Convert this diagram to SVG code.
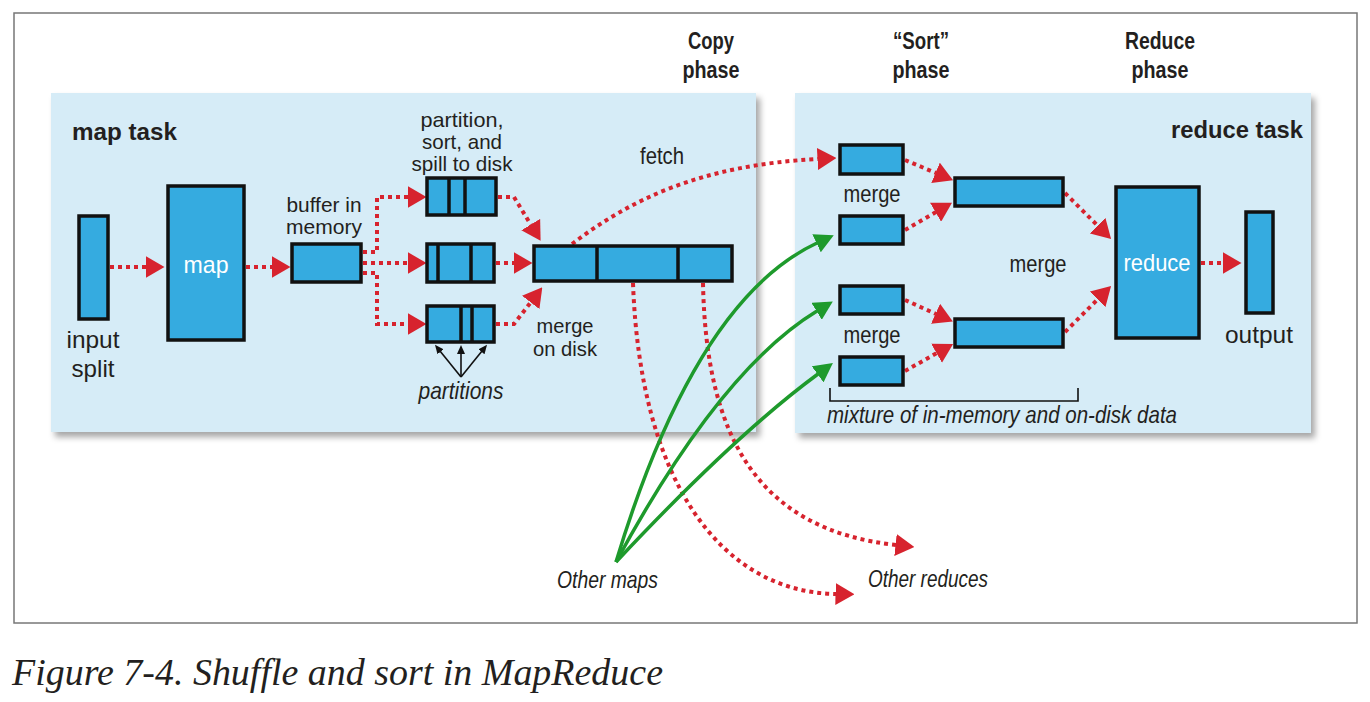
<svg xmlns="http://www.w3.org/2000/svg" width="1370" height="702" viewBox="0 0 1370 702">
<style>
.t{font-family:"Liberation Sans",Arial,sans-serif;font-size:24px;fill:#231f20}
.s{font-size:21px}
.b{font-weight:bold}
.i{font-style:italic}
.w{fill:#ffffff}
.blk{fill:#35abe0;stroke:#111;stroke-width:3.5}
.div{stroke:#111;stroke-width:3.5}
.task{fill:#d6ecf7}
.red{fill:none;stroke:#d7232e;stroke-width:4;stroke-dasharray:4 4;marker-end:url(#ra)}
.grn{fill:none;stroke:#1e9a2c;stroke-width:3.5;marker-end:url(#ga)}
.thin{fill:none;stroke:#111;stroke-width:1.6;marker-end:url(#ka)}
</style>
<defs>
<marker id="ra" markerUnits="userSpaceOnUse" viewBox="0 0 19 22" markerWidth="19" markerHeight="22" refX="0.5" refY="11" orient="auto"><path d="M0,0 L19,11 L0,22 z" fill="#d7232e"/></marker>
<marker id="ga" markerUnits="userSpaceOnUse" viewBox="0 0 19 20" markerWidth="19" markerHeight="20" refX="0.5" refY="10" orient="auto"><path d="M0,0 L19,10 L0,20 z" fill="#1e9a2c"/></marker>
<marker id="ka" markerUnits="userSpaceOnUse" viewBox="0 0 9 8" markerWidth="9" markerHeight="8" refX="1" refY="4" orient="auto"><path d="M0,0 L9,4 L0,8 z" fill="#111"/></marker>
<filter id="sh" x="-5%" y="-5%" width="112%" height="115%"><feDropShadow dx="4" dy="5" stdDeviation="3" flood-color="#000" flood-opacity="0.35"/></filter>
</defs>
<rect x="14" y="13" width="1343" height="610" fill="#fff" stroke="#777" stroke-width="1.5"/>

<g id="map-task">
<rect class="task" x="51" y="93" width="705" height="339" filter="url(#sh)"/>
<text class="t b" x="72" y="140" font-size="28" textLength="105" lengthAdjust="spacingAndGlyphs">map task</text>
</g>
<g id="reduce-task">
<rect class="task" x="795" y="93" width="516" height="340" filter="url(#sh)"/>
<text class="t b" x="1171" y="138" font-size="28" textLength="132" lengthAdjust="spacingAndGlyphs">reduce task</text>
</g>

<g id="phase-labels">
<text class="t b" x="711" y="49" font-size="24" text-anchor="middle" textLength="46" lengthAdjust="spacingAndGlyphs">Copy</text>
<text class="t b" x="711" y="78" font-size="24" text-anchor="middle" textLength="57" lengthAdjust="spacingAndGlyphs">phase</text>
<text class="t b" x="921" y="49" font-size="24" text-anchor="middle" textLength="56" lengthAdjust="spacingAndGlyphs">“Sort”</text>
<text class="t b" x="921" y="78" font-size="24" text-anchor="middle" textLength="57" lengthAdjust="spacingAndGlyphs">phase</text>
<text class="t b" x="1160" y="49" font-size="24" text-anchor="middle" textLength="70" lengthAdjust="spacingAndGlyphs">Reduce</text>
<text class="t b" x="1160" y="78" font-size="24" text-anchor="middle" textLength="57" lengthAdjust="spacingAndGlyphs">phase</text>
</g>

<g id="connectors">
<path class="red" d="M110,267 H146"/>
<path class="red" d="M246,267 H272"/>
<path class="red" d="M363,252 H377 V197 H408"/>
<path class="red" d="M363,263 H408"/>
<path class="red" d="M363,273 H377 V324 H408"/>
<path class="red" d="M498,197 H514 L531,225"/>
<path class="red" d="M496,263 H514"/>
<path class="red" d="M496,324 H514 L531,302"/>
<path class="red" d="M572,244 C630,200 700,165 818,159"/>
<path class="red" d="M633,283 C640,480 720,592 836,594"/>
<path class="red" d="M703,283 C706,440 760,530 896,545"/>
<path class="red" d="M905,160 L936,173"/>
<path class="red" d="M905,230 L936,212"/>
<path class="red" d="M905,300 L936,314"/>
<path class="red" d="M905,371 L937,353"/>
<path class="red" d="M1065,193 L1098,226"/>
<path class="red" d="M1065,332 L1098,299"/>
<path class="red" d="M1201,263 H1223"/>
<path class="grn" d="M616,562 Q695,300 817,243"/>
<path class="grn" d="M616,562 Q720,370 817,311"/>
<path class="grn" d="M616,562 Q735,435 818,374"/>
<path class="thin" d="M461,377 L440,351"/>
<path class="thin" d="M461,377 V353"/>
<path class="thin" d="M461,377 L482,351"/>
<path d="M830,388 V401 H1078 V388" fill="none" stroke="#111" stroke-width="1.6"/>
</g>

<g id="input-split">
<rect class="blk" x="79" y="216" width="29" height="103"/>
<text class="t" x="93" y="348" font-size="25" text-anchor="middle" textLength="53" lengthAdjust="spacingAndGlyphs">input</text>
<text class="t" x="93" y="377" font-size="25" text-anchor="middle" textLength="43" lengthAdjust="spacingAndGlyphs">split</text>
</g>
<g id="map">
<rect class="blk" x="168" y="186" width="76" height="154"/>
<text class="t w" x="206" y="273" font-size="27" text-anchor="middle" textLength="45" lengthAdjust="spacingAndGlyphs">map</text>
</g>
<g id="buffer">
<rect class="blk" x="292" y="244" width="69" height="38"/>
<text class="t s" x="324" y="212" text-anchor="middle" textLength="75" lengthAdjust="spacingAndGlyphs">buffer in</text>
<text class="t s" x="324" y="234" text-anchor="middle" textLength="76" lengthAdjust="spacingAndGlyphs">memory</text>
</g>
<g id="spills">
<text class="t s" x="462" y="127" text-anchor="middle" textLength="83" lengthAdjust="spacingAndGlyphs">partition,</text>
<text class="t s" x="462" y="149" text-anchor="middle" textLength="80" lengthAdjust="spacingAndGlyphs">sort, and</text>
<text class="t s" x="462" y="171" text-anchor="middle" textLength="101" lengthAdjust="spacingAndGlyphs">spill to disk</text>
<rect class="blk" x="427" y="178" width="69" height="37"/>
<line class="div" x1="449" y1="178" x2="449" y2="215"/>
<line class="div" x1="465" y1="178" x2="465" y2="215"/>
<rect class="blk" x="427" y="244" width="67" height="38"/>
<line class="div" x1="438" y1="244" x2="438" y2="282"/>
<line class="div" x1="471" y1="244" x2="471" y2="282"/>
<rect class="blk" x="427" y="306" width="67" height="36"/>
<line class="div" x1="461" y1="306" x2="461" y2="342"/>
<line class="div" x1="472" y1="306" x2="472" y2="342"/>
<text class="t i" x="461" y="399" font-size="23" text-anchor="middle" textLength="85" lengthAdjust="spacingAndGlyphs">partitions</text>
</g>
<g id="merged">
<rect class="blk" x="534" y="246" width="198" height="35"/>
<line class="div" x1="597" y1="246" x2="597" y2="281"/>
<line class="div" x1="678" y1="246" x2="678" y2="281"/>
<text class="t s" x="565" y="333" text-anchor="middle" textLength="57" lengthAdjust="spacingAndGlyphs">merge</text>
<text class="t s" x="565" y="356" text-anchor="middle" textLength="64" lengthAdjust="spacingAndGlyphs">on disk</text>
<text class="t" x="662" y="164" text-anchor="middle" textLength="44" lengthAdjust="spacingAndGlyphs">fetch</text>
</g>
<g id="sort-inputs">
<rect class="blk" x="840" y="145" width="63" height="29"/>
<rect class="blk" x="840" y="216" width="63" height="28"/>
<rect class="blk" x="840" y="286" width="63" height="28"/>
<rect class="blk" x="840" y="357" width="63" height="28"/>
<text class="t" x="872" y="202" text-anchor="middle" textLength="57" lengthAdjust="spacingAndGlyphs">merge</text>
<text class="t" x="872" y="343" text-anchor="middle" textLength="57" lengthAdjust="spacingAndGlyphs">merge</text>
<text class="t i" x="827" y="423" font-size="23" textLength="350" lengthAdjust="spacingAndGlyphs">mixture of in-memory and on-disk data</text>
</g>
<g id="sort-merged">
<rect class="blk" x="955" y="178" width="108" height="28"/>
<rect class="blk" x="955" y="319" width="108" height="28"/>
<text class="t" x="1038" y="272" text-anchor="middle" textLength="57" lengthAdjust="spacingAndGlyphs">merge</text>
</g>
<g id="reduce">
<rect class="blk" x="1116" y="187" width="83" height="151"/>
<text class="t w" x="1157" y="271" font-size="26" text-anchor="middle" textLength="67" lengthAdjust="spacingAndGlyphs">reduce</text>
</g>
<g id="output">
<rect class="blk" x="1246" y="212" width="27" height="101"/>
<text class="t" x="1259" y="343" font-size="26" text-anchor="middle" textLength="68" lengthAdjust="spacingAndGlyphs">output</text>
</g>
<g id="others">
<text class="t i" x="557" y="588" font-size="23" textLength="101" lengthAdjust="spacingAndGlyphs">Other maps</text>
<text class="t i" x="868" y="587" font-size="23" textLength="120" lengthAdjust="spacingAndGlyphs">Other reduces</text>
</g>
<text x="12" y="685" font-family="'Liberation Serif','Times New Roman',serif" font-style="italic" font-size="37" fill="#231f20" textLength="651" lengthAdjust="spacingAndGlyphs">Figure 7-4. Shuffle and sort in MapReduce</text>
</svg>
